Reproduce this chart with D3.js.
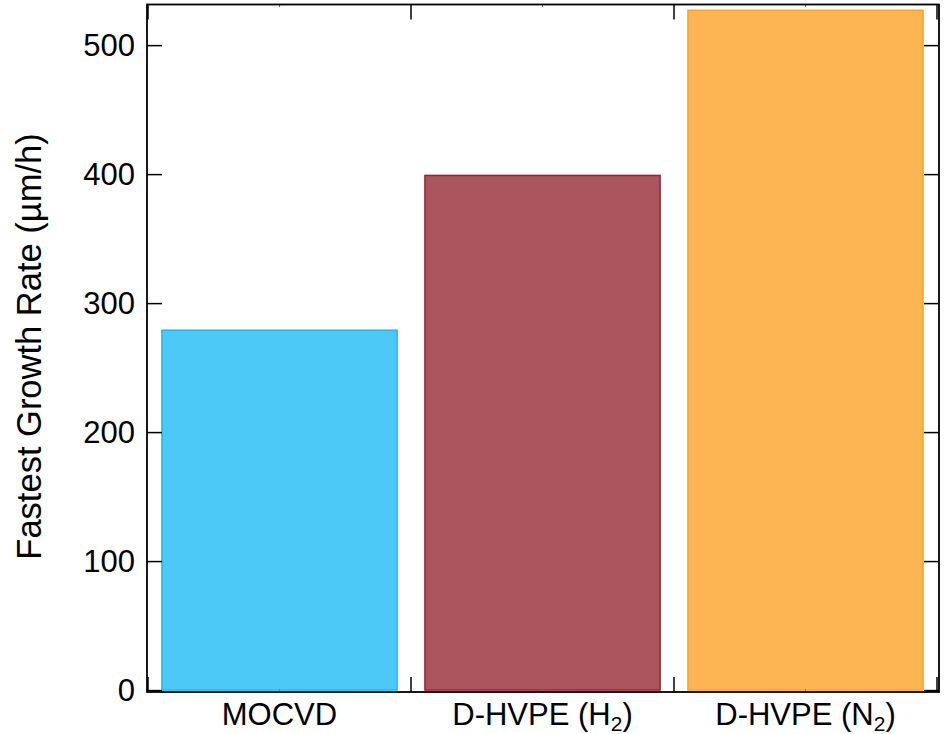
<!DOCTYPE html>
<html>
<head>
<meta charset="utf-8">
<script src="https://cdn.jsdelivr.net/npm/d3@7"></script>
<style>
    body { margin: 0; background: #fff; }
    text { font-family: "Liberation Sans", Arial, Helvetica, sans-serif; fill: #000; }
</style>
</head>
<body>
<div id="viz-growth"></div>
<script>
// data
const categories = ["MOCVD", "D-HVPE (H2)", "D-HVPE (N2)"];
const growthRates = [279, 399, 527];
const yTicks = [0, 100, 200, 300, 400, 500];
const fillColors = ["#4cc9f7", "#ab555e", "#fdb553"];
const strokeColors = ["#1fb6ee", "#9b2232", "#f8a22c"];

const width = 946, height = 734;
const plot = { left: 147, right: 939, top: 4.5, bottom: 692 };

const svg = d3.select("#viz-growth")
    .append("svg")
    .attr("width", width)
    .attr("height", height);

const x = d3.scaleBand()
    .domain(categories)
    .range([plot.left + 1, plot.right - 2])
    .paddingInner(0.106)
    .paddingOuter(0.053);

const y = d3.scaleLinear()
    .domain([-1.5, 531.5])
    .range([plot.bottom, plot.top]);

const rows = categories.map((c, i) => ({ cat: c, value: growthRates[i], fill: fillColors[i], stroke: strokeColors[i] }));

// bars
svg.selectAll(".bar")
    .data(rows)
    .enter()
    .append("rect")
    .attr("class", "bar")
    .attr("x", d => x(d.cat))
    .attr("y", d => y(d.value))
    .attr("width", x.bandwidth())
    .attr("height", d => y(0) - y(d.value))
    .style("fill", d => d.fill)
    .style("stroke", d => d.stroke)
    .style("stroke-width", 1.5);

// left / right axes, ticks inside
svg.append("g")
    .attr("transform", `translate(${plot.left}, 0)`)
    .call(d3.axisLeft(y).tickValues(yTicks).tickSizeInner(-15).tickSizeOuter(0).tickPadding(12))
    .call(g => g.select(".domain").remove())
    .call(g => g.selectAll(".tick line").attr("stroke", "#000").attr("stroke-width", 1.5))
    .call(g => g.selectAll(".tick text").style("font-size", "31px").attr("dy", "0.33em"));

svg.append("g")
    .attr("transform", `translate(${plot.right}, 0)`)
    .call(d3.axisRight(y).tickValues(yTicks).tickSizeInner(-15).tickSizeOuter(0).tickFormat(""))
    .call(g => g.select(".domain").remove())
    .call(g => g.selectAll(".tick line").attr("stroke", "#000").attr("stroke-width", 1.5));

// category boundaries and centres on top / bottom
const bounds = categories.map(c => x(c) - x.step() * x.paddingInner() / 2);
bounds.push(bounds[bounds.length - 1] + x.step());
const centers = categories.map(c => x(c) + x.bandwidth() / 2);

[[plot.bottom, -1], [plot.top, 1]].forEach(([yy, dir]) => {
    svg.selectAll(null)
        .data(bounds)
        .enter()
        .append("line")
        .attr("x1", d => d).attr("x2", d => d)
        .attr("y1", yy).attr("y2", yy + dir * 15)
        .attr("stroke", "#000")
        .attr("stroke-width", 1.5);
    svg.selectAll(null)
        .data(centers)
        .enter()
        .append("line")
        .attr("x1", d => d).attr("x2", d => d)
        .attr("y1", yy).attr("y2", yy + dir * 2.5)
        .attr("stroke", "#777")
        .attr("stroke-width", 1.2);
});

// frame
svg.append("rect")
    .attr("x", plot.left)
    .attr("y", plot.top)
    .attr("width", plot.right - plot.left)
    .attr("height", plot.bottom - plot.top)
    .style("fill", "none")
    .style("stroke", "#000")
    .style("stroke-width", 1.8);

// category labels with subscripts
svg.selectAll(".cat-label")
    .data(categories)
    .enter()
    .append("text")
    .attr("class", "cat-label")
    .attr("x", d => x(d) + x.bandwidth() / 2)
    .attr("y", 725)
    .attr("text-anchor", "middle")
    .style("font-size", "31px")
    .each(function(d) {
        const m = d.match(/^(.*[A-Z])(\d)(\))$/);
        const t = d3.select(this);
        if (!m) { t.text(d); return; }
        t.append("tspan").text(m[1]);
        t.append("tspan").text(m[2]).style("font-size", "21px").attr("dy", 6);
        t.append("tspan").text(m[3]).attr("dy", -6);
    });

// y title
svg.append("text")
    .attr("transform", `translate(41, ${346.5}) rotate(-90)`)
    .attr("text-anchor", "middle")
    .style("font-size", "34.5px")
    .text("Fastest Growth Rate (µm/h)");
</script>
</body>
</html>
